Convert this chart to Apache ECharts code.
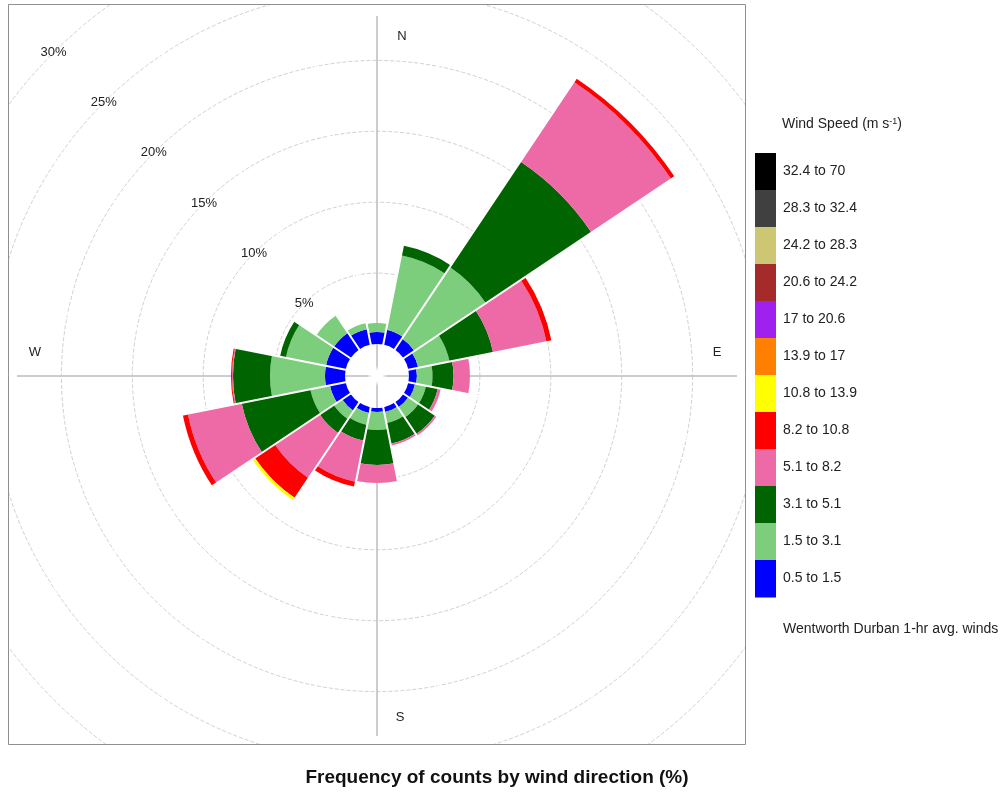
<!DOCTYPE html>
<html>
<head>
<meta charset="utf-8">
<script src="https://cdn.jsdelivr.net/npm/echarts@6/dist/echarts.min.js"></script>
<style>html,body{margin:0;padding:0;background:#fff}#chart{width:1003px;height:795px}</style>
</head>
<body>
<div id="chart"></div>
<script>
// ---- data ----
const directions = ['N','NNE','NE','ENE','E','ESE','SE','SSE','S','SSW','SW','WSW','W','WNW','NW','NNW'];
// percentage frequency per speed bin, per direction (N clockwise)
const ws_0_5_1_5   = [0.85,1.06,0.92,0.71,0.56,0.49,0.42,0.35,0.28,0.42,0.71,1.13,1.41,1.41,1.41,1.13];
const ws_1_5_3_1   = [0.63,5.36,6.06,2.25,1.10,0.78,0.85,0.78,1.27,0.85,0.70,1.41,3.88,2.89,1.48,0.42];
const ws_3_1_5_1   = [0,0.70,8.96,3.14,1.48,0.85,1.41,1.48,2.47,1.13,1.20,4.94,2.61,0.42,0,0];
const ws_5_1_8_2   = [0,0,6.77,3.84,1.16,0.21,0.14,0.14,1.27,2.96,3.81,3.87,0.07,0,0,0];
const ws_8_2_10_8  = [0,0,0.29,0.36,0,0,0,0,0,0.35,1.69,0.36,0.07,0,0,0];
const ws_10_8_13_9 = [0,0,0,0,0,0,0,0,0,0,0.21,0,0,0,0,0];
const ws_13_9_17   = [0,0,0,0,0,0,0,0,0,0,0,0,0,0,0,0];
const ws_17_20_6   = [0,0,0,0,0,0,0,0,0,0,0,0,0,0,0,0];
const ws_20_6_24_2 = [0,0,0,0,0,0,0,0,0,0,0,0,0,0,0,0];
const ws_24_2_28_3 = [0,0,0,0,0,0,0,0,0,0,0,0,0,0,0,0];
const ws_28_3_32_4 = [0,0,0,0,0,0,0,0,0,0,0,0,0,0,0,0];
const ws_32_4_70   = [0,0,0,0,0,0,0,0,0,0,0,0,0,0,0,0];
const speedLabels = ['0.5 to 1.5','1.5 to 3.1','3.1 to 5.1','5.1 to 8.2','8.2 to 10.8','10.8 to 13.9','13.9 to 17','17 to 20.6','20.6 to 24.2','24.2 to 28.3','28.3 to 32.4','32.4 to 70'];
const speedColors = ['#0000FF','#7CCD7C','#006400','#EE6AA7','#FF0000','#FFFF00','#FF7F00','#A020F0','#A52A2A','#CDC673','#404040','#000000'];
const speedData = [ws_0_5_1_5,ws_1_5_3_1,ws_3_1_5_1,ws_5_1_8_2,ws_8_2_10_8,ws_10_8_13_9,ws_13_9_17,ws_17_20_6,ws_20_6_24_2,ws_24_2_28_3,ws_28_3_32_4,ws_32_4_70];
const gridTicks = [5,10,15,20,25,30];
const gridLabels = ['5%','10%','15%','20%','25%','30%'];
const compassLabels = ['N','E','S','W'];

// ---- layout ----
const CX = 377, CY = 376;
const FONT = 'Liberation Sans, Arial, sans-serif';
const TXT = '#222';
const chart = echarts.init(document.getElementById('chart'), null, {renderer:'canvas'});

const barSeries = speedData.map((d, i) => ({
  name: speedLabels[i], type: 'bar', coordinateSystem: 'polar', polarIndex: 0,
  stack: 'ws', data: d, barCategoryGap: '0%', z: 2, silent: true,
  itemStyle: {color: speedColors[i]}
}));

const gridSeries = {
  type: 'custom', coordinateSystem: 'polar', polarIndex: 0, z: 1, silent: true,
  encode: {radius: 0, angle: 1},
  data: gridTicks.map(v => [v, 0]),
  renderItem: function (params, api) {
    const cs = params.coordSys;
    const p = api.coord([api.value(0), 0]);
    const r = Math.hypot(p[0] - cs.cx, p[1] - cs.cy);
    return {type: 'group', children: [
      {type: 'circle', shape: {cx: cs.cx, cy: cs.cy, r: r},
       style: {fill: 'none', stroke: '#c4c4c4', lineWidth: 0.8, lineDash: [4, 2]}},
      {type: 'text', x: cs.cx - r * Math.SQRT1_2, y: cs.cy - r * Math.SQRT1_2,
       style: {text: gridLabels[params.dataIndex], fill: TXT, font: '13px ' + FONT, align: 'center', verticalAlign: 'middle'}}
    ]};
  }
};

const compassPos = [[CX + 25, CY - 340], [CX + 340, CY - 24], [CX + 23, CY + 341], [CX - 342, CY - 24]];
const graphics = [];
// masks clipping the plot region
graphics.push({type:'rect', z:100, silent:true, shape:{x:746, y:0, width:260, height:795}, style:{fill:'#fff'}});
graphics.push({type:'rect', z:100, silent:true, shape:{x:0, y:745, width:1003, height:50}, style:{fill:'#fff'}});
graphics.push({type:'rect', z:100, silent:true, shape:{x:0, y:0, width:8, height:795}, style:{fill:'#fff'}});
graphics.push({type:'rect', z:100, silent:true, shape:{x:0, y:0, width:1003, height:4.5}, style:{fill:'#fff'}});
graphics.push({type:'rect', z:101, silent:true, shape:{x:8.5, y:4.5, width:737, height:740}, style:{fill:'none', stroke:'#8f8f8f', lineWidth:1}});
compassLabels.forEach((t, i) => graphics.push({type:'text', z:101, x: compassPos[i][0], y: compassPos[i][1],
  style:{text:t, fill:TXT, font:'13px ' + FONT, align:'center', verticalAlign:'middle'}}));
// legend colour bar
const LX = 755, LTOP = 153, LH = 37;
for (let k = 0; k < speedLabels.length; k++) {
  const i = speedLabels.length - 1 - k;
  graphics.push({type:'rect', z:102, silent:true, shape:{x:LX, y:LTOP + k*LH, width:21, height:LH + 0.5}, style:{fill:speedColors[i]}});
  graphics.push({type:'text', z:102, x:783, y:LTOP + k*LH + LH/2, style:{text:speedLabels[i], fill:TXT, font:'14px ' + FONT, verticalAlign:'middle'}});
}
graphics.push({type:'text', z:102, x:782, y:124, style:{
  text:'{a|Wind Speed (m s}{b|-1}{a|)}', verticalAlign:'middle',
  rich:{a:{fontSize:14, fontFamily:FONT, fill:TXT}, b:{fontSize:9, fontFamily:FONT, fill:TXT, verticalAlign:'top'}}}});
graphics.push({type:'text', z:102, x:783, y:629, style:{text:'Wentworth Durban 1-hr avg. winds', fill:TXT, font:'14px ' + FONT, verticalAlign:'middle'}});
graphics.push({type:'text', z:102, x:497, y:778, style:{text:'Frequency of counts by wind direction (%)', fill:'#111', font:'bold 19px ' + FONT, align:'center', verticalAlign:'middle'}});

chart.setOption({
  animation: false,
  backgroundColor: '#fff',
  polar: [
    {center: [CX, CY], radius: 457.4},
    {center: [CX, CY], radius: 360}
  ],
  angleAxis: [
    {polarIndex: 0, type: 'category', data: directions, startAngle: 101.25, clockwise: true, z: 10,
     axisLine: {show: false}, axisTick: {show: false}, axisLabel: {show: false},
     splitLine: {show: true, lineStyle: {color: '#ffffff', width: 2}}},
    {polarIndex: 1, type: 'value', min: 0, max: 360, interval: 90, startAngle: 90, z: 0,
     axisLine: {show: false}, axisTick: {show: false}, axisLabel: {show: false},
     splitLine: {show: true, lineStyle: {color: '#9a9a9a', width: 1}}}
  ],
  radiusAxis: [
    {polarIndex: 0, type: 'value', min: -2.257, max: 30, show: false},
    {polarIndex: 1, type: 'value', min: 0, max: 1, show: false}
  ],
  series: [gridSeries].concat(barSeries),
  graphic: {elements: graphics}
});
</script>
</body>
</html>
